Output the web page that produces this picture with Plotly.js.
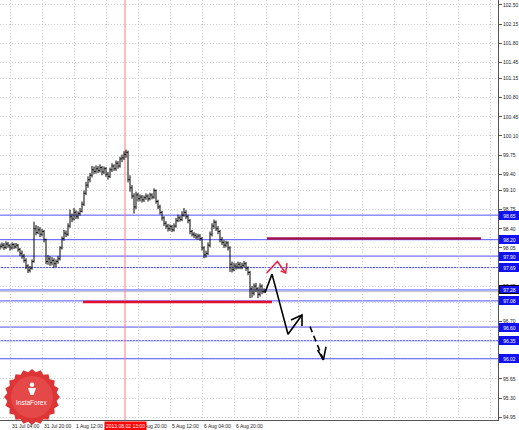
<!DOCTYPE html>
<html><head><meta charset="utf-8">
<script src="https://cdn.plot.ly/plotly-3.0.1.min.js"></script>
<style>html,body{margin:0;padding:0;background:#fff;}#chart{width:519px;height:430px;}</style>
</head><body><div id="chart"></div>
<script>
// ---- data (USDJPY H1, bar index 0 = 31 Jul 04:00) ----
const barStart = -5;
const opens = [98.06,98.08,98.10,98.06,98.12,98.09,98.05,98.11,98.07,98.10,
98.02,97.95,97.90,97.82,97.72,97.64,97.68,97.80,98.40,98.33,
98.38,98.30,98.35,98.20,97.80,97.85,97.78,97.82,97.76,97.80,
97.85,98.05,98.22,98.32,98.30,98.45,98.62,98.58,98.70,98.62,
98.68,98.72,98.85,99.05,99.20,99.30,99.38,99.48,99.45,99.50,
99.47,99.52,99.44,99.50,99.40,99.36,99.48,99.55,99.50,99.60,
99.55,99.68,99.70,99.76,99.80,99.30,99.15,99.00,98.80,99.02,
98.95,98.98,98.93,98.97,99.00,98.95,99.02,98.98,99.10,98.90,
98.80,98.70,98.60,98.50,98.45,98.40,98.44,98.38,98.45,98.55,
98.60,98.57,98.65,98.70,98.62,98.55,98.35,98.30,98.28,98.25,
98.27,98.22,98.05,97.92,97.95,98.10,98.30,98.45,98.52,98.40,
98.35,98.20,98.15,98.10,98.14,98.05,97.75,97.65,97.72,97.70,
97.75,97.70,97.73,97.76,97.68,97.60,97.30,97.22,97.35,97.30,
97.20,97.35,97.25];
const highs = [98.13,98.15,98.14,98.17,98.16,98.12,98.15,98.14,98.14,98.12,
98.05,98.00,97.94,97.86,97.75,97.72,97.84,98.53,98.47,98.45,
98.43,98.40,98.38,98.22,97.92,97.90,97.88,97.86,97.84,97.90,
98.08,98.26,98.38,98.37,98.50,98.75,98.68,98.78,98.74,98.72,
98.78,98.90,99.10,99.26,99.36,99.42,99.55,99.54,99.56,99.55,
99.58,99.55,99.54,99.53,99.44,99.52,99.60,99.58,99.65,99.64,
99.72,99.76,99.82,99.85,99.83,99.38,99.20,99.05,99.08,99.06,
99.03,99.02,99.01,99.05,99.03,99.06,99.05,99.14,99.12,98.93,
98.84,98.73,98.63,98.54,98.49,98.48,98.47,98.50,98.60,98.66,
98.64,98.72,98.78,98.74,98.66,98.58,98.38,98.34,98.32,98.31,
98.30,98.25,98.08,98.00,98.15,98.35,98.50,98.57,98.55,98.45,
98.38,98.25,98.19,98.18,98.17,98.08,97.80,97.78,97.77,97.80,
97.79,97.78,97.81,97.79,97.71,97.63,97.35,97.40,97.41,97.33,
97.40,97.38,97.31];
const lows = [98.02,98.04,98.01,98.03,98.05,98.00,98.02,98.03,98.04,97.98,
97.90,97.85,97.78,97.66,97.59,97.60,97.65,97.78,98.28,98.30,
98.25,98.26,98.15,97.75,97.74,97.72,97.73,97.68,97.70,97.76,
97.82,98.02,98.18,98.25,98.27,98.42,98.52,98.55,98.58,98.58,
98.64,98.70,98.82,99.02,99.15,99.25,99.34,99.40,99.41,99.42,
99.43,99.38,99.40,99.35,99.30,99.33,99.44,99.46,99.46,99.50,
99.52,99.62,99.66,99.70,99.25,99.08,98.95,98.68,98.76,98.90,
98.90,98.88,98.89,98.93,98.90,98.92,98.94,98.95,98.86,98.76,
98.66,98.55,98.45,98.40,98.35,98.36,98.34,98.35,98.42,98.52,
98.53,98.54,98.62,98.58,98.50,98.30,98.26,98.23,98.21,98.20,
98.18,98.00,97.86,97.87,97.92,98.06,98.26,98.40,98.36,98.30,
98.15,98.10,98.05,98.06,98.00,97.61,97.60,97.62,97.65,97.66,
97.66,97.66,97.69,97.63,97.55,97.13,97.14,97.18,97.24,97.13,
97.16,97.20,97.22];
const closes = [98.08,98.10,98.06,98.12,98.09,98.05,98.11,98.07,98.10,98.02,
97.95,97.90,97.82,97.72,97.64,97.68,97.80,98.40,98.33,98.38,
98.30,98.35,98.20,97.80,97.85,97.78,97.82,97.76,97.80,97.85,
98.05,98.22,98.32,98.30,98.45,98.62,98.58,98.70,98.62,98.68,
98.72,98.85,99.05,99.20,99.30,99.38,99.48,99.45,99.50,99.47,
99.52,99.44,99.50,99.40,99.36,99.48,99.55,99.50,99.60,99.55,
99.68,99.70,99.76,99.80,99.30,99.15,99.00,98.80,99.02,98.95,
98.98,98.93,98.97,99.00,98.95,99.02,98.98,99.10,98.90,98.80,
98.70,98.60,98.50,98.45,98.40,98.44,98.38,98.45,98.55,98.60,
98.57,98.65,98.70,98.62,98.55,98.35,98.30,98.28,98.25,98.27,
98.22,98.05,97.92,97.95,98.10,98.30,98.45,98.52,98.40,98.35,
98.20,98.15,98.10,98.14,98.05,97.75,97.65,97.72,97.70,97.75,
97.70,97.73,97.76,97.68,97.60,97.30,97.22,97.35,97.30,97.20,
97.35,97.25,97.27];

const xTickPos  = [0,16,32,48,64,80,96,112];
const xTickText = ["31 Jul 04:00","31 Jul 20:00","1 Aug 12:00","2 Aug 04:00","2 Aug 20:00","5 Aug 12:00","6 Aug 04:00","6 Aug 20:00"];
const xGridPos  = [0,16,32,48,64,80,96,112,128,144,160,176,192,208,224,240];
const yTickVals = [102.50,102.15,101.80,101.45,101.15,100.80,100.45,100.10,99.75,99.40,99.10,98.75,98.40,98.05,97.70,97.35,97.05,96.70,96.35,96.00,95.65,95.30,94.95];

const levels = [98.65,98.20,97.90,97.69,97.28,97.08,96.60,96.35,96.02];
const bidLevel = 97.25;
const markerTimeX = 57.5;
const markerTimeText = "2013.08.02 13:00";

const resistX = [128.5,235.5], resistY = [98.22,98.22];
const supportX = [36.5,131],  supportY = [97.06,97.06];

const redArrowX = [128.3,133.7,137.8], redArrowY = [97.59,97.80,97.59];
const redHeadX = [135.3,137.8,138.5],  redHeadY = [97.63,97.59,97.77];
const blackArrowX = [127.5,131,139,146], blackArrowY = [97.23,97.57,96.47,96.82];
const blackHeadX = [140.5,146,146],      blackHeadY = [96.73,96.82,96.62];
const dashArrowX = [150,156.7],          dashArrowY = [96.61,96.00];
const dashHeadX = [153.8,156.7,158],     dashHeadY = [96.18,96.00,96.24];

// ---- chart ----
const barX = closes.map((_, k) => barStart + k);
const F = "Liberation Sans, Arial, sans-serif";

const traces = [
  {type:'ohlc', x:barX, open:opens, high:highs, low:lows, close:closes,
   increasing:{line:{color:'#000', width:1}}, decreasing:{line:{color:'#000', width:1}},
   tickwidth:0.4, hoverinfo:'skip', showlegend:false},
  {type:'scatter', mode:'lines', x:resistX, y:resistY, line:{color:'#a3124f', width:2.5}, hoverinfo:'skip'},
  {type:'scatter', mode:'lines', x:supportX, y:supportY, line:{color:'#e5102c', width:2.5}, hoverinfo:'skip'},
  {type:'scatter', mode:'lines', x:redArrowX, y:redArrowY, line:{color:'#ee1c3c', width:1.5}, hoverinfo:'skip'},
  {type:'scatter', mode:'lines', x:redHeadX, y:redHeadY, line:{color:'#ee1c3c', width:1.5}, hoverinfo:'skip'},
  {type:'scatter', mode:'lines', x:blackArrowX, y:blackArrowY, line:{color:'#000', width:1.6}, hoverinfo:'skip'},
  {type:'scatter', mode:'lines', x:blackHeadX, y:blackHeadY, line:{color:'#000', width:1.6}, hoverinfo:'skip'},
  {type:'scatter', mode:'lines', x:dashArrowX, y:dashArrowY, line:{color:'#000', width:1.6, dash:'6px,4px'}, hoverinfo:'skip'},
  {type:'scatter', mode:'lines', x:dashHeadX, y:dashHeadY, line:{color:'#000', width:1.6}, hoverinfo:'skip'}
];

const shapes = [];
levels.forEach(v => shapes.push({type:'line', xref:'paper', x0:0, x1:1, yref:'y', y0:v, y1:v,
  line:{color:'#5050ff', width:1}, layer:'between'}));
shapes.push({type:'line', xref:'paper', x0:0, x1:1, yref:'y', y0:bidLevel, y1:bidLevel,
  line:{color:'#c0c0c0', width:1}, layer:'between'});
shapes.push({type:'line', xref:'x', x0:markerTimeX, x1:markerTimeX, yref:'paper', y0:0, y1:1,
  line:{color:'#ff7a7a', width:1}, layer:'between'});

// InstaForex badge (decoration), in paper units of a 498x420 plot area
const PW = 498, PH = 420;
function px2paper(px, py){ return [px/PW, (PH-py)/PH]; }
let star = '';
const n = 40, cx = 32, cy = 397;
for (let k = 0; k < n; k++) {
  const t = k/n*2*Math.PI;
  const r = (k % 2 === 0) ? 28 : 25;
  const p = px2paper(cx + r*Math.cos(t), cy + r*Math.sin(t));
  star += (k === 0 ? 'M' : 'L') + p[0].toFixed(5) + ',' + p[1].toFixed(5) + ' ';
}
star += 'Z';
shapes.push({type:'path', xref:'paper', yref:'paper', path:star, fillcolor:'#dd3535', line:{width:0}, layer:'above'});
const c1 = px2paper(cx-21, cy-21), c2 = px2paper(cx+21, cy+21);
shapes.push({type:'circle', xref:'paper', yref:'paper', x0:c1[0], x1:c2[0], y0:c2[1], y1:c1[1],
  fillcolor:'#e54848', line:{width:0}, layer:'above'});
const h1 = px2paper(cx-2.2, 382.5), h2 = px2paper(cx+2.2, 386.9);
shapes.push({type:'circle', xref:'paper', yref:'paper', x0:h1[0], x1:h2[0], y0:h2[1], y1:h1[1],
  fillcolor:'#fff', line:{width:0}, layer:'above'});
const b1 = px2paper(cx-4, 388), b2 = px2paper(cx+4, 388), b3 = px2paper(cx+1.5, 395), b4 = px2paper(cx-1.5, 395);
shapes.push({type:'path', xref:'paper', yref:'paper',
  path:`M${b1[0]},${b1[1]} L${b2[0]},${b2[1]} L${b3[0]},${b3[1]} L${b4[0]},${b4[1]} Z`,
  fillcolor:'#fff', line:{width:0}, layer:'above'});

const annotations = [];
xTickPos.forEach((p, k) => annotations.push({xref:'x', x:p, yref:'paper', y:0, xanchor:'left', yanchor:'top',
  yshift:-1, text:xTickText[k], showarrow:false, font:{family:F, size:5, color:'#222'}}));
annotations.push({xref:'x', x:markerTimeX, yref:'paper', y:0, xanchor:'center', yanchor:'top', yshift:-0.5,
  text:markerTimeText, showarrow:false, bgcolor:'#ff0000', borderpad:1, font:{family:F, size:5, color:'#fff'}});
levels.forEach(v => annotations.push({xref:'paper', x:1, xanchor:'left', xshift:1, yref:'y', y:v, yanchor:'middle',
  text:v.toFixed(2), showarrow:false, bgcolor:'#1010f0', bordercolor: v === 97.28 ? '#000' : '#1010f0', borderwidth:1, borderpad:0.5,
  width:18, align:'center', font:{family:F, size:5, color:'#fff'}}));
const tl = px2paper(cx, 402);
annotations.push({xref:'paper', yref:'paper', x:tl[0], y:tl[1], xanchor:'center', yanchor:'middle',
  text:'InstaForex', showarrow:false, font:{family:F, size:6.5, color:'#fff'}});

const layout = {
  width:519, height:430,
  margin:{l:0, r:21, t:0, b:10, pad:0},
  paper_bgcolor:'#fff', plot_bgcolor:'#fff',
  showlegend:false,
  xaxis:{range:[-5,244], rangeslider:{visible:false}, tickvals:xGridPos, showticklabels:false,
    showgrid:true, gridcolor:'#d0d0d0', griddash:'1px,2px', gridwidth:1, zeroline:false,
    showline:true, linecolor:'#555', linewidth:1, ticks:'', fixedrange:true},
  yaxis:{range:[94.898,102.59], side:'right', tickvals:yTickVals, ticktext:yTickVals.map(v=>v.toFixed(2)),
    showgrid:true, gridcolor:'#d0d0d0', griddash:'1px,2px', gridwidth:1, zeroline:false,
    showline:true, linecolor:'#555', linewidth:1, ticks:'outside', ticklen:3, tickcolor:'#555',
    tickfont:{family:F, size:5, color:'#222'}, fixedrange:true},
  shapes:shapes, annotations:annotations
};
Plotly.newPlot('chart', traces, layout, {displayModeBar:false, staticPlot:true});
</script></body></html>
